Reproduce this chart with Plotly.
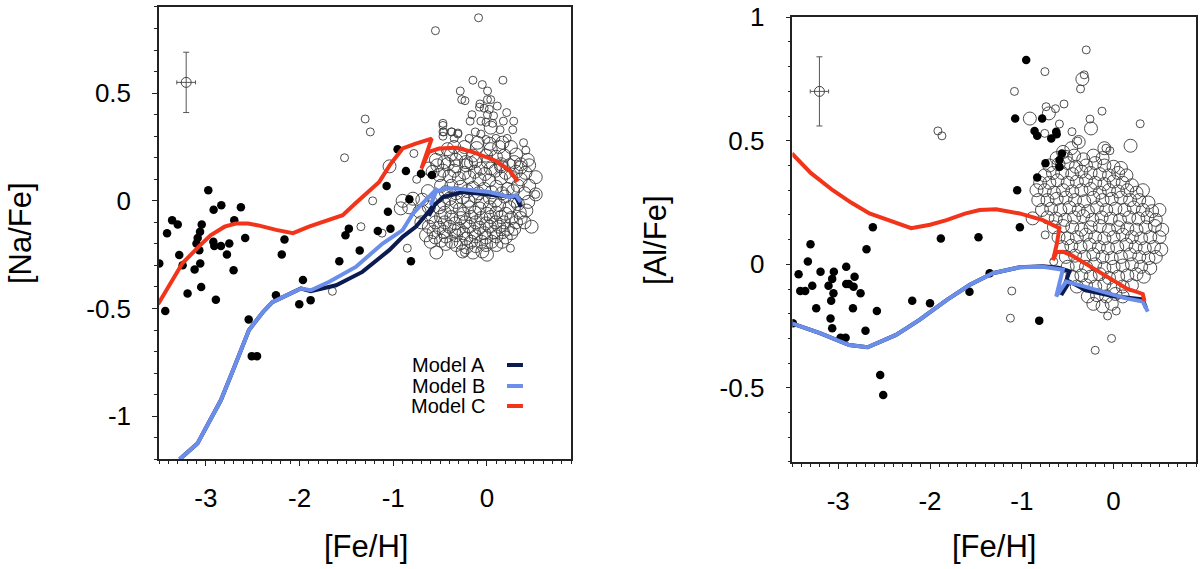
import plotly.graph_objects as go
from plotly.subplots import make_subplots

# ---- data ----
model_names = ["Model A", "Model B", "Model C"]
model_colors = ["#0b1a4f", "#6a8eea", "#f2341a"]

xtick_vals = [-3, -2, -1, 0]
xtick_text = ["-3", "-2", "-1", "0"]
na_ytick_vals = [-1, -0.5, 0, 0.5]
na_ytick_text = ["-1", "-0.5", "0", "0.5"]
al_ytick_vals = [-0.5, 0, 0.5, 1]
al_ytick_text = ["-0.5", "0", "0.5", "1"]

# [Na/Fe] panel, model tracks
na_a = [(-3.28, -1.2), (-3.09, -1.127), (-2.97, -1.03), (-2.84, -0.926), (-2.71, -0.786),
        (-2.54, -0.60), (-2.39, -0.516), (-2.29, -0.47), (-2.145, -0.44), (-1.985, -0.407),
        (-1.88, -0.42), (-1.61, -0.392), (-1.33, -0.33), (-1.043, -0.229), (-0.90, -0.167),
        (-0.76, -0.121), (-0.62, -0.05), (-0.56, -0.01), (-0.62, -0.07), (-0.56, -0.02),
        (-0.47, 0.018), (-0.26, 0.041), (0.096, 0.026), (0.31, 0.018), (0.36, -0.028)]
na_b = [(-3.28, -1.2), (-3.09, -1.127), (-2.97, -1.03), (-2.84, -0.926), (-2.71, -0.786),
        (-2.54, -0.60), (-2.39, -0.516), (-2.29, -0.47), (-2.145, -0.44), (-1.985, -0.407),
        (-1.88, -0.415), (-1.683, -0.376), (-1.40, -0.307), (-1.114, -0.198), (-0.90, -0.136),
        (-0.79, -0.059), (-0.69, -0.013), (-0.58, 0.034), (-0.53, 0.058), (-0.60, -0.02),
        (-0.55, 0.04), (-0.45, 0.058), (-0.33, 0.057), (0.025, 0.041), (0.238, 0.018),
        (0.31, 0.026), (0.36, -0.005)]
na_c = [(-3.51, -0.48), (-3.4, -0.40), (-3.25, -0.29), (-3.07, -0.21), (-2.95, -0.16),
        (-2.8, -0.12), (-2.68, -0.105), (-2.55, -0.105), (-2.43, -0.115), (-2.25, -0.135),
        (-2.07, -0.15), (-1.9, -0.12), (-1.7, -0.09), (-1.54, -0.067), (-1.40, -0.01),
        (-1.25, 0.05), (-1.15, 0.088), (-1.03, 0.17), (-0.90, 0.243), (-0.76, 0.266),
        (-0.65, 0.28), (-0.59, 0.289), (-0.70, 0.15), (-0.62, 0.227), (-0.51, 0.243),
        (-0.33, 0.247), (-0.154, 0.227), (0.025, 0.195), (0.10, 0.185), (0.24, 0.142),
        (0.33, 0.09)]

# [Al/Fe] panel, model tracks
al_a = [(-3.505, -0.239), (-3.2, -0.279), (-2.88, -0.327), (-2.68, -0.336), (-2.37, -0.286),
        (-2.115, -0.225), (-1.82, -0.145), (-1.57, -0.084), (-1.316, -0.036), (-1.025, -0.012),
        (-0.771, -0.008), (-0.60, -0.014), (-0.48, -0.028), (-0.57, -0.124), (-0.48, -0.07),
        (-0.30, -0.105), (-0.01, -0.128), (0.318, -0.142), (0.355, -0.178)]
al_b = [(-3.505, -0.239), (-3.2, -0.279), (-2.88, -0.327), (-2.68, -0.336), (-2.37, -0.286),
        (-2.115, -0.225), (-1.82, -0.145), (-1.57, -0.084), (-1.316, -0.036), (-1.025, -0.012),
        (-0.771, -0.01), (-0.553, -0.022), (-0.625, -0.13), (-0.516, -0.07), (-0.372, -0.084),
        (-0.153, -0.108), (0.137, -0.138), (0.318, -0.151), (0.373, -0.192)]
al_c = [(-3.505, 0.449), (-3.3, 0.37), (-3.06, 0.30), (-2.86, 0.25), (-2.66, 0.206),
        (-2.405, 0.172), (-2.205, 0.146), (-2.0, 0.16), (-1.82, 0.179), (-1.62, 0.205),
        (-1.46, 0.22), (-1.28, 0.223), (-1.15, 0.215), (-1.025, 0.206), (-0.77, 0.179),
        (-0.59, 0.146), (-0.62, 0.08), (-0.66, 0.017), (-0.62, 0.05), (-0.553, 0.051),
        (-0.45, 0.035), (-0.30, 0.002), (-0.08, -0.05), (0.137, -0.097), (0.318, -0.12),
        (0.337, -0.148)]

# filled symbols (halo stars)
na_halo = [(-0.954, 0.24), (-0.865, 0.139), (-0.704, 0.126), (-0.587, 0.12), (-1.071, 0.069),
           (-0.828, 0.007), (-1.057, -0.051), (-2.974, 0.049), (-2.917, -0.041), (-2.835, -0.021),
           (-2.626, -0.03), (-3.36, -0.09), (-3.30, -0.11), (-3.044, -0.11), (-3.062, -0.143),
           (-3.087, -0.172), (-2.697, -0.09), (-3.414, -0.15), (-2.58, -0.172), (-2.161, -0.18),
           (-1.474, -0.129), (-1.51, -0.16), (-1.165, -0.14), (-1.03, -0.13), (-3.10, -0.198),
           (-3.07, -0.229), (-3.06, -0.291), (-3.12, -0.319), (-3.05, -0.40), (-3.497, -0.291),
           (-3.284, -0.252), (-3.248, -0.299), (-3.195, -0.43), (-3.433, -0.511), (-2.92, -0.19),
           (-2.91, -0.21), (-2.839, -0.21), (-2.75, -0.198), (-2.775, -0.249), (-2.704, -0.322),
           (-2.893, -0.459), (-2.19, -0.249), (-2.543, -0.551), (-2.51, -0.721), (-2.454, -0.721),
           (-2.252, -0.438), (-2.003, -0.48), (-1.964, -0.368), (-1.882, -0.461), (-1.576, -0.28),
           (-1.358, -0.231), (-0.811, -0.28)]
al_halo = [(-0.952, 0.827), (-1.072, 0.59), (-0.778, 0.59), (-0.861, 0.54), (-0.832, 0.52),
           (-0.679, 0.509), (-0.625, 0.537), (-0.62, 0.527), (-0.563, 0.449), (-0.742, 0.409),
           (-0.59, 0.422), (-0.59, 0.395), (-0.832, 0.351), (-1.05, 0.30), (-2.623, 0.15),
           (-1.882, 0.104), (-1.472, 0.110), (-1.021, 0.15), (-3.302, 0.081), (-3.331, 0.011),
           (-3.432, -0.04), (-3.414, -0.108), (-3.36, -0.108), (-3.283, -0.087), (-3.24, -0.178),
           (-3.193, -0.03), (-3.106, -0.087), (-3.048, -0.03), (-3.066, -0.059), (-3.052, -0.117),
           (-3.077, -0.148), (-3.084, -0.219), (-3.066, -0.259), (-2.913, -0.01), (-2.913, -0.08),
           (-2.884, -0.08), (-2.822, -0.05), (-2.833, -0.091), (-2.84, -0.178), (-2.757, -0.117),
           (-2.975, -0.297), (-2.92, -0.297), (-2.692, 0.061), (-2.703, -0.269), (-2.579, -0.189),
           (-2.543, -0.448), (-2.51, -0.529), (-2.194, -0.148), (-2.0, -0.158), (-1.57, -0.111),
           (-1.35, -0.036), (-0.81, -0.228), (-3.495, -0.239)]

# open symbols (disk stars), small and large
na_disk_small = [(-0.09, 0.85), (-0.55, 0.79), (-0.15, 0.56), (-0.05, 0.54), (0.17, 0.56),
                 (-0.285, 0.51), (0.006, 0.51), (-1.30, 0.38), (-1.245, 0.32), (-1.52, 0.20),
                 (-0.47, 0.35), (-0.47, 0.32), (-0.38, 0.32), (-0.31, 0.31), (-0.08, 0.435),
                 (-1.22, 0.0), (-1.345, -0.12), (0.52, 0.03), (-0.85, -0.22), (-1.65, -0.42),
                 (-1.12, -0.15), (0.25, -0.22), (-0.24, -0.24), (-0.78, 0.22), (-0.75, 0.10),
                 (-0.27, 0.47), (-0.235, 0.465), (0.005, 0.47), (0.04, 0.47), (-0.075, 0.45),
                 (0.11, 0.44), (-0.03, 0.43), (0.025, 0.425), (-0.16, 0.40), (0.005, 0.40),
                 (0.07, 0.395), (0.21, 0.41), (-0.18, 0.37), (-0.065, 0.37), (-0.01, 0.365),
                 (0.06, 0.36), (0.175, 0.37), (0.285, 0.37), (-0.47, 0.36), (0.275, 0.33),
                 (-0.375, 0.32), (-0.31, 0.315), (-0.46, 0.32), (-0.125, 0.32), (-0.065, 0.31),
                 (0.14, 0.33), (-0.47, 0.30), (-0.35, 0.29), (-0.19, 0.29), (-0.01, 0.285),
                 (0.095, 0.29), (0.215, 0.29), (0.39, 0.27), (-0.51, 0.23), (0.415, 0.235)]
na_disk_big = [(0.04, 0.34), (-0.10, 0.27), (0.03, 0.265), (0.165, 0.27),
               (-0.35, 0.25), (-0.24, 0.25), (-0.11, 0.245), (0.04, 0.24), (0.255, 0.25), (0.13, 0.25),
               (-0.42, 0.24), (-0.385, 0.215), (-0.28, 0.22), (-0.15, 0.21), (-0.01, 0.21),
               (0.095, 0.205), (0.185, 0.21), (0.31, 0.215), (0.435, 0.19), (-0.545, 0.19),
               (-0.455, 0.18), (-0.33, 0.19), (-0.225, 0.18), (-0.12, 0.185), (0.01, 0.18),
               (0.15, 0.17), (0.29, 0.18), (0.36, 0.17), (-0.53, 0.165), (-0.42, 0.17),
               (-0.33, 0.16), (-0.22, 0.165), (-0.17, 0.175), (-0.065, 0.15), (0.04, 0.15),
               (0.15, 0.16), (0.24, 0.165), (0.36, 0.155), (0.45, 0.165), (-0.58, 0.135),
               (-0.47, 0.14), (-0.35, 0.14), (-0.24, 0.13), (-0.13, 0.135), (-0.02, 0.125),
               (0.09, 0.14), (0.20, 0.13), (0.31, 0.135), (0.41, 0.13), (0.52, 0.11),
               (0.45, 0.07), (0.36, 0.10), (0.255, 0.11), (0.15, 0.105), (0.025, 0.095),
               (-0.08, 0.10), (-0.19, 0.11), (-0.30, 0.105), (-0.40, 0.115), (-0.51, 0.12),
               (-0.62, 0.15), (-0.49, 0.07), (-0.38, 0.07), (-0.28, 0.065), (-0.15, 0.06),
               (-0.03, 0.055), (0.10, 0.065), (0.22, 0.055), (0.33, 0.07), (-0.63, 0.045),
               (-0.44, 0.04), (-0.33, 0.035), (-0.21, 0.045), (-0.09, 0.035), (0.05, 0.04),
               (0.16, 0.035), (0.28, 0.045), (0.40, 0.035), (0.19, 0.02), (0.03, 0.015),
               (-0.12, 0.02), (-0.26, 0.015), (-0.40, 0.01), (-0.53, 0.02), (-0.69, 0.005),
               (-0.79, 0.01), (-0.90, 0.0), (-0.60, -0.005), (-0.46, -0.01), (-0.33, -0.005),
               (-0.20, 0.0), (-0.05, -0.005), (0.09, 0.0), (0.30, 0.0), (0.44, -0.005),
               (-0.92, -0.035), (-0.83, -0.03), (-0.72, -0.05), (-0.62, -0.03), (-0.51, -0.03),
               (-0.38, -0.03), (-0.29, -0.04), (-0.19, -0.03), (-0.08, -0.035), (0.03, -0.03),
               (0.13, -0.02), (0.24, -0.03), (0.33, -0.015), (0.42, -0.045), (-0.45, -0.055),
               (-0.25, -0.06), (-0.13, -0.055), (0.0, -0.06), (0.10, -0.055), (0.20, -0.06),
               (0.35, -0.055), (0.36, -0.08), (0.26, -0.08), (0.15, -0.075), (0.04, -0.075),
               (-0.06, -0.08), (-0.17, -0.075), (-0.28, -0.08), (-0.38, -0.075), (-0.49, -0.075),
               (-0.60, -0.075), (-0.70, -0.10), (-0.55, -0.10), (-0.45, -0.10), (-0.34, -0.105),
               (-0.23, -0.10), (-0.12, -0.10), (-0.01, -0.105), (0.09, -0.10), (0.18, -0.10),
               (0.31, -0.10), (0.40, -0.10), (-0.62, -0.12), (-0.51, -0.125), (-0.40, -0.12),
               (-0.30, -0.13), (-0.19, -0.12), (-0.08, -0.125), (0.03, -0.12), (0.13, -0.12),
               (0.22, -0.13), (0.29, -0.13), (-0.57, -0.145), (-0.46, -0.145), (-0.35, -0.14),
               (-0.25, -0.15), (-0.14, -0.145), (-0.03, -0.15), (0.07, -0.145), (0.17, -0.145),
               (0.26, -0.15), (0.20, -0.17), (0.10, -0.165), (-0.01, -0.17), (-0.12, -0.165),
               (-0.22, -0.175), (-0.33, -0.16), (-0.44, -0.165), (-0.55, -0.17), (-0.65, -0.16),
               (-0.60, -0.19), (-0.49, -0.185), (-0.38, -0.19), (-0.28, -0.195), (-0.17, -0.19),
               (-0.06, -0.19), (0.05, -0.19), (0.16, -0.19), (-0.01, -0.205), (-0.12, -0.21),
               (-0.22, -0.215), (-0.33, -0.205), (-0.44, -0.2), (0.10, -0.205), (-0.26, -0.235),
               (-0.15, -0.24), (-0.05, -0.235), (-1.04, 0.16), (0.476, -0.12), (-0.54, -0.24),
               (0.0, -0.25), (0.52, 0.03)]

al_disk_small = [(-0.298, 0.868), (-0.748, 0.78), (-0.32, 0.767), (-0.36, 0.71), (-1.08, 0.70),
                 (-0.735, 0.638), (-0.633, 0.63), (-0.54, 0.649), (-0.126, 0.62), (-0.257, 0.588),
                 (-0.453, 0.537), (-0.59, 0.568), (-0.75, 0.53), (-0.39, 0.499), (0.29, 0.569),
                 (-0.083, 0.47), (-0.04, 0.46), (-1.914, 0.54), (-1.87, 0.52), (-0.745, 0.119),
                 (-1.109, -0.108), (-1.124, -0.218), (-0.652, 0.011), (-0.2, -0.348),
                 (-0.022, -0.3), (-0.065, -0.209), (0.029, -0.189)]
al_disk_big = [(-0.34, 0.75), (-0.912, 0.59), (-0.705, 0.611), (-0.246, 0.55), (-0.882, 0.186),
               (-0.55, 0.455), (-0.46, 0.47), (-0.38, 0.495), (-0.10, 0.47), (0.185, 0.48),
               (-0.62, 0.43), (-0.52, 0.435), (-0.43, 0.44), (-0.33, 0.425), (-0.22, 0.44),
               (-0.12, 0.43), (-0.70, 0.40), (-0.60, 0.405), (-0.50, 0.41), (-0.41, 0.395),
               (-0.30, 0.40), (-0.20, 0.41), (-0.10, 0.40), (0.0, 0.395), (0.08, 0.39),
               (-0.75, 0.36), (-0.66, 0.37), (-0.56, 0.37), (-0.45, 0.365), (-0.35, 0.375),
               (-0.25, 0.37), (-0.15, 0.365), (-0.05, 0.36), (0.05, 0.37), (0.14, 0.36),
               (-0.80, 0.33), (-0.70, 0.33), (-0.61, 0.34), (-0.50, 0.33), (-0.40, 0.335),
               (-0.30, 0.34), (-0.20, 0.33), (-0.10, 0.325), (0.0, 0.335), (0.10, 0.33),
               (0.20, 0.32), (-0.84, 0.30), (-0.75, 0.30), (-0.65, 0.29), (-0.55, 0.30),
               (-0.45, 0.295), (-0.35, 0.30), (-0.25, 0.305), (-0.15, 0.29), (-0.05, 0.30),
               (0.05, 0.295), (0.15, 0.30), (0.25, 0.29), (0.32, 0.30), (-0.82, 0.26),
               (-0.72, 0.26), (-0.62, 0.265), (-0.52, 0.27), (-0.42, 0.26), (-0.32, 0.255),
               (-0.22, 0.27), (-0.12, 0.26), (-0.02, 0.265), (0.08, 0.27), (0.18, 0.26),
               (0.28, 0.26), (0.38, 0.25), (-0.78, 0.22), (-0.68, 0.225), (-0.58, 0.22),
               (-0.48, 0.23), (-0.38, 0.22), (-0.28, 0.215), (-0.18, 0.23), (-0.08, 0.22),
               (0.02, 0.225), (0.12, 0.22), (0.22, 0.23), (0.32, 0.22), (0.42, 0.215),
               (0.50, 0.22), (-0.72, 0.19), (-0.63, 0.185), (-0.53, 0.18), (-0.43, 0.19),
               (-0.33, 0.195), (-0.23, 0.18), (-0.13, 0.19), (-0.03, 0.185), (0.07, 0.18),
               (0.17, 0.19), (0.27, 0.185), (0.37, 0.19), (0.46, 0.18), (-0.65, 0.15),
               (-0.55, 0.155), (-0.45, 0.15), (-0.35, 0.14), (-0.25, 0.15), (-0.15, 0.155),
               (-0.05, 0.14), (0.05, 0.15), (0.15, 0.145), (0.25, 0.14), (0.35, 0.15),
               (0.45, 0.155), (0.53, 0.14), (-0.60, 0.11), (-0.50, 0.105), (-0.40, 0.11),
               (-0.30, 0.12), (-0.20, 0.11), (-0.10, 0.105), (0.0, 0.11), (0.10, 0.12),
               (0.20, 0.11), (0.30, 0.105), (0.40, 0.11), (0.50, 0.11), (-0.56, 0.07),
               (-0.46, 0.075), (-0.36, 0.07), (-0.26, 0.08), (-0.16, 0.07), (-0.06, 0.065),
               (0.04, 0.07), (0.14, 0.08), (0.24, 0.07), (0.34, 0.065), (0.44, 0.07),
               (0.52, 0.06), (-0.52, 0.03), (-0.42, 0.035), (-0.32, 0.03), (-0.22, 0.04),
               (-0.12, 0.03), (-0.02, 0.025), (0.08, 0.03), (0.18, 0.04), (0.28, 0.03),
               (0.38, 0.025), (0.46, 0.03), (-0.50, -0.01), (-0.40, -0.005), (-0.30, -0.01),
               (-0.20, 0.0), (-0.10, -0.015), (0.0, -0.01), (0.10, -0.005), (0.20, 0.0),
               (0.30, -0.01), (0.40, -0.015), (-0.45, -0.05), (-0.35, -0.045), (-0.25, -0.05),
               (-0.15, -0.04), (-0.05, -0.055), (0.05, -0.05), (0.15, -0.045), (0.25, -0.04),
               (0.33, -0.05), (-0.40, -0.09), (-0.30, -0.085), (-0.20, -0.09), (-0.10, -0.08),
               (0.0, -0.095), (0.10, -0.09), (0.20, -0.085), (-0.28, -0.13), (-0.18, -0.125),
               (-0.08, -0.13), (0.02, -0.12), (0.10, -0.13), (-0.22, -0.16), (-0.12, -0.17),
               (-0.02, -0.16)]

# typical error bar shown in the upper-left corner: (x, y, err_x, err_y)
na_typical_err = (-3.21, 0.55, 0.1, 0.14)
al_typical_err = (-3.205, 0.70, 0.1, 0.14)

FONT = "Liberation Sans, Arial, Helvetica, sans-serif"


def xs(pts):
    return [p[0] for p in pts]


def ys(pts):
    return [p[1] for p in pts]


fig = make_subplots(rows=1, cols=2)

panels = [
    (1, na_disk_small, na_disk_big, na_halo, [na_a, na_b, na_c], na_typical_err),
    (2, al_disk_small, al_disk_big, al_halo, [al_a, al_b, al_c], al_typical_err),
]

for col, small, big, halo, tracks, err in panels:
    # open circles (disk)
    fig.add_trace(go.Scatter(
        x=xs(big), y=ys(big), mode="markers", showlegend=False, hoverinfo="skip",
        marker=dict(symbol="circle-open", size=13, color="#3a3a3a", line=dict(width=0.9))
    ), row=1, col=col)
    fig.add_trace(go.Scatter(
        x=xs(small), y=ys(small), mode="markers", showlegend=False, hoverinfo="skip",
        marker=dict(symbol="circle-open", size=8, color="#3a3a3a", line=dict(width=0.9))
    ), row=1, col=col)
    # filled circles (halo)
    fig.add_trace(go.Scatter(
        x=xs(halo), y=ys(halo), mode="markers", showlegend=False, hoverinfo="skip",
        marker=dict(symbol="circle", size=8.5, color="black")
    ), row=1, col=col)
    # model tracks
    for name, color, pts in zip(model_names, model_colors, tracks):
        fig.add_trace(go.Scatter(
            x=xs(pts), y=ys(pts), mode="lines", name=name, showlegend=False,
            line=dict(color=color, width=4)
        ), row=1, col=col)
    # typical error
    fig.add_trace(go.Scatter(
        x=[err[0]], y=[err[1]], mode="markers", showlegend=False, hoverinfo="skip",
        marker=dict(symbol="circle-open", size=10, color="#444", line=dict(width=1)),
        error_x=dict(type="data", array=[err[2]], width=2, thickness=1, color="#555"),
        error_y=dict(type="data", array=[err[3]], width=3, thickness=1, color="#555"),
    ), row=1, col=col)

axis_common = dict(
    showline=True, linecolor="#222", linewidth=1.5, mirror=True, automargin=False,
    ticks="outside", tickcolor="#222", showgrid=False, zeroline=False,
    tickfont=dict(family=FONT, size=26, color="black"),
)

fig.update_xaxes(axis_common)
fig.update_yaxes(axis_common)

minor_ticks = dict(tickmode="linear", tick0=0, dtick=0.1, ticks="outside", ticklen=3,
                   tickcolor="#222")

fig.update_xaxes(range=[-3.5, 0.9], domain=[0.1325, 0.4761], tickmode="array",
                 tickvals=xtick_vals, ticktext=xtick_text, ticklen=5, ticklabelstandoff=10,
                 minor=minor_ticks, row=1, col=1)
fig.update_xaxes(range=[-3.5, 0.9], domain=[0.6603, 0.9968], tickmode="array",
                 tickvals=xtick_vals, ticktext=xtick_text, ticklen=5, ticklabelstandoff=10,
                 minor=minor_ticks, row=1, col=2)
fig.update_yaxes(range=[-1.2, 0.9], domain=[0.1928, 0.9877], tickmode="array",
                 tickvals=na_ytick_vals, ticktext=na_ytick_text, ticklen=5, ticklabelstandoff=16,
                 minor=minor_ticks, row=1, col=1)
fig.update_yaxes(range=[-0.8, 1.0], domain=[0.1882, 0.9696], tickmode="array",
                 tickvals=al_ytick_vals, ticktext=al_ytick_text, ticklen=5, ticklabelstandoff=16,
                 minor=minor_ticks, row=1, col=2)

# axis titles
title_font = dict(family=FONT, size=31, color="black")
annotations = [
    dict(text="[Fe/H]", x=0.305, y=0.040, xref="paper", yref="paper", showarrow=False,
         font=title_font, xanchor="center", yanchor="middle"),
    dict(text="[Fe/H]", x=0.8285, y=0.040, xref="paper", yref="paper", showarrow=False,
         font=title_font, xanchor="center", yanchor="middle"),
    dict(text="[Na/Fe]", x=0.0167, y=0.5905, xref="paper", yref="paper", showarrow=False,
         font=title_font, textangle=-90, xanchor="center", yanchor="middle"),
    dict(text="[Al/Fe]", x=0.5458, y=0.578, xref="paper", yref="paper", showarrow=False,
         font=title_font, textangle=-90, xanchor="center", yanchor="middle"),
]

# legend drawn inside the left panel: text, then a short line sample
shapes = []
legend_y = [0.3585, 0.3216, 0.2865]
for name, color, ly in zip(model_names, model_colors, legend_y):
    annotations.append(dict(text=name, x=0.4058, y=ly, xref="paper", yref="paper",
                            showarrow=False, xanchor="right", yanchor="middle",
                            font=dict(family=FONT, size=20, color="black")))
    shapes.append(dict(type="line", xref="paper", yref="paper", x0=0.4225, x1=0.4358,
                       y0=ly, y1=ly, line=dict(color=color, width=4)))

fig.update_layout(
    width=1200, height=569,
    margin=dict(l=0, r=0, t=0, b=0, autoexpand=False),
    paper_bgcolor="white", plot_bgcolor="white",
    showlegend=False,
    annotations=annotations,
    shapes=shapes,
    font=dict(family=FONT),
)

# the page's default body margin would shift the whole figure, so drop it
fig.write_html("out.html", config={"displayModeBar": False},
               post_script="document.body.style.margin = '0';")
